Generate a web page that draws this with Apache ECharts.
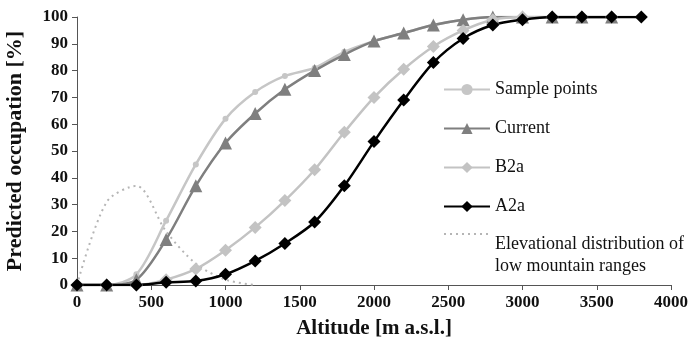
<!DOCTYPE html>
<html>
<head>
<meta charset="utf-8">
<script src="https://cdn.jsdelivr.net/npm/echarts@6/dist/echarts.min.js"></script>
<style>html,body{margin:0;padding:0;background:#fff}#c{width:689px;height:348px}</style>
</head>
<body>
<div id="c"></div>
<script>
var altitudes = [0,200,400,600,800,1000,1200,1400,1600,1800,2000,2200,2400,2600,2800,3000,3200,3400,3600,3800];
var samplePoints = [0,0,4,24,45,62,72,78,81,87,91,94,97,99,100,100,100,100,100];
var current = [0,0,2,17,37,53,64,73,80,86,91,94,97,99,100,100,100,100,100];
var b2a = [0,0,0,2,6,13,21.5,31.5,43,57,70,80.5,89,95,99,100,100,100,100];
var a2a = [0,0,0,1,1.5,4,9,15.5,23.5,37,53.5,69,83,92,97,99,100,100,100,100];
var elevAlt = [0,200,400,600,800,1000,1200];
var elevation = [0,31,37,20,8,2,0];
var seriesNames = ['Sample points','Current','B2a','A2a','Elevational distribution of low mountain ranges'];

function pairs(xs, ys){ return ys.map(function(v,i){ return [xs[i], v]; }); }

var serif = '"Liberation Serif", "DejaVu Serif", serif';
var legendText = {fontFamily: serif, fontSize: 18, color: '#111', lineHeight: 22};
var chart = echarts.init(document.getElementById('c'));
chart.setOption({
  animation: false,
  grid: {left: 77, right: 18, top: 17, bottom: 63, outerBoundsMode: 'none', containLabel: false},
  xAxis: {
    type: 'value', min: 0, max: 4000, interval: 500,
    name: 'Altitude [m a.s.l.]', nameLocation: 'middle', nameGap: 33,
    nameTextStyle: {fontFamily: serif, fontWeight: 'bold', fontSize: 21, color: '#111'},
    axisLine: {lineStyle: {color: '#555', width: 1}},
    axisTick: {show: true, length: 5, lineStyle: {color: '#555'}},
    axisLabel: {fontFamily: serif, fontWeight: 'bold', fontSize: 17, color: '#111', margin: 9,
                formatter: function(v){ return String(v); }},
    splitLine: {show: false}
  },
  yAxis: {
    type: 'value', min: 0, max: 100, interval: 10,
    name: 'Predicted occupation [%]', nameLocation: 'middle', nameGap: 51,
    nameTextStyle: {fontFamily: serif, fontWeight: 'bold', fontSize: 22, color: '#111'},
    axisLine: {show: true, lineStyle: {color: '#555', width: 1}},
    axisTick: {show: true, length: 5, lineStyle: {color: '#555'}},
    axisLabel: {fontFamily: serif, fontWeight: 'bold', fontSize: 17, color: '#111', margin: 9,
                formatter: function(v){ return String(v); }},
    splitLine: {show: false}
  },
  legend: [{
    orient: 'vertical', left: 438, top: 73.5, itemWidth: 46, itemHeight: 14, itemGap: 17,
    textStyle: legendText,
    data: seriesNames.slice(0, 4)
  }, {
    orient: 'vertical', left: 438, top: 206, itemWidth: 46, itemHeight: 14,
    textStyle: {fontFamily: serif, fontSize: 18, color: '#111',
      rich: {s: {fontSize: 2, lineHeight: 42}, t: {fontFamily: serif, fontSize: 18, color: '#111', lineHeight: 22}}},
    formatter: function(){ return '{s| }\n{t|Elevational distribution of}\n{t|low mountain ranges}'; },
    data: [{name: seriesNames[4], itemStyle: {opacity: 0}}]
  }],
  series: [
    {name: seriesNames[4], type: 'line', data: pairs(elevAlt, elevation), smooth: 0.3,
     symbol: 'none', lineStyle: {color: '#b5b5b5', width: 2, type: [2,4]}, itemStyle: {color: '#b5b5b5'}},
    {name: seriesNames[0], type: 'line', data: pairs(altitudes, samplePoints), smooth: 0.3,
     symbol: 'circle', symbolSize: 6, lineStyle: {color: '#c6c6c6', width: 2.5}, itemStyle: {color: '#c6c6c6'}},
    {name: seriesNames[1], type: 'line', data: pairs(altitudes, current), smooth: 0.3,
     symbol: 'triangle', symbolSize: 13, lineStyle: {color: '#7f7f7f', width: 2.5}, itemStyle: {color: '#7f7f7f'}},
    {name: seriesNames[2], type: 'line', data: pairs(altitudes, b2a), smooth: 0.3,
     symbol: 'diamond', symbolSize: 13, lineStyle: {color: '#c3c3c3', width: 2.5}, itemStyle: {color: '#c3c3c3'}},
    {name: seriesNames[3], type: 'line', data: pairs(altitudes, a2a), smooth: 0.3,
     symbol: 'diamond', symbolSize: 13, lineStyle: {color: '#000', width: 2.5}, itemStyle: {color: '#000'}}
  ]
});
</script>
</body>
</html>
